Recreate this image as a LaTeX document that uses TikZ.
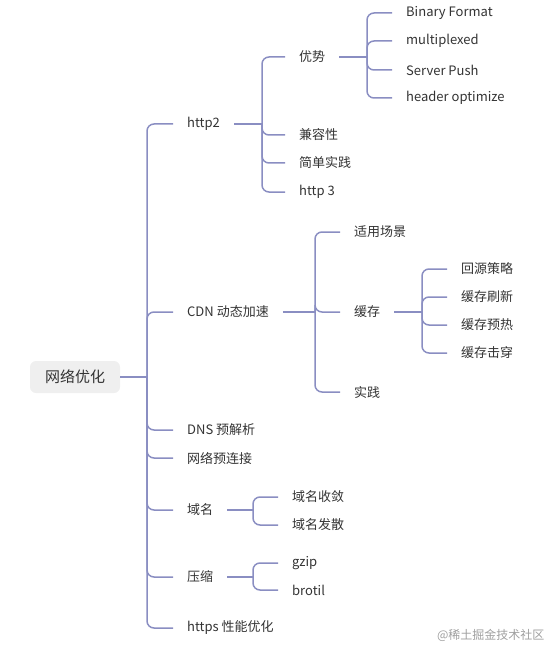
\documentclass[tikz,border=0pt]{standalone}
\usepackage{fontspec}
\newfontfamily\cjkfont{Noto Sans CJK SC}
\usepackage{xcolor}
\definecolor{mmline}{HTML}{8A8EC2}
\definecolor{mmtext}{HTML}{333333}
\definecolor{mmroot}{HTML}{EFEFEF}
\usetikzlibrary{positioning}

\begin{document}
\begin{tikzpicture}[
  x=1pt, y=-1pt,
  rootbox/.style={rectangle, rounded corners=6pt, fill=mmroot, text=mmtext,
    minimum width=90pt, minimum height=32pt, inner sep=0pt,
    font=\cjkfont\fontsize{15}{17}\selectfont},
  item/.style={anchor=west, inner xsep=14pt, inner ysep=2pt, text=mmtext,
    font=\cjkfont\fontsize{13}{15}\selectfont},
  link/.style={draw=mmline, line width=1.5pt, rounded corners=7pt}
]
\useasboundingbox (0,0) rectangle (555,647);

\node[rootbox] (net) at (75,377) {网络优化};

% first level
\node[item] (http2) at (173,124) {http2};
\node[item] (cdn) at (173,312) {CDN 动态加速};
\node[item] (dns) at (173,430) {DNS 预解析};
\node[item] (preconn) at (173,458) {网络预连接};
\node[item] (domain) at (173,510) {域名};
\node[item] (zip) at (173,577) {压缩};
\node[item] (https) at (173,628) {https 性能优化};

% http2
\node[item] (adv) at (285,57) {优势};
\node[item] (compat) at (285,135) {兼容性};
\node[item] (simple) at (285,163) {简单实践};
\node[item] (http3) at (285,192) {http 3};

\node[item] (binary) at (392,13) {Binary Format};
\node[item] (multi) at (392,41) {multiplexed};
\node[item] (push) at (392,70) {Server Push};
\node[item] (header) at (392,98) {header optimize};

% cdn
\node[item] (scene) at (340,232) {适用场景};
\node[item] (cache) at (340,312) {缓存};
\node[item] (practice) at (340,392) {实践};

\node[item] (origin) at (447,269) {回源策略};
\node[item] (refresh) at (447,297) {缓存刷新};
\node[item] (preheat) at (447,325) {缓存预热};
\node[item] (pierce) at (447,353) {缓存击穿};

% domain, zip
\node[item] (merge) at (278,497) {域名收敛};
\node[item] (split) at (278,525) {域名发散};
\node[item] (gzip) at (278,563) {gzip};
\node[item] (brotil) at (278,590) {brotil};

\node[text=gray!75, font=\cjkfont\fontsize{12}{14}\selectfont, anchor=east] (credit) at (548,635) {@稀土掘金技术社区};

% junctions
\coordinate (netj) at (147,377);
\coordinate (http2j) at (262,124);
\coordinate (advj) at (367,57);
\coordinate (cdnj) at (315,312);
\coordinate (cachej) at (422,312);
\coordinate (domainj) at (253,510);
\coordinate (zipj) at (253,577);

\draw[link] (net) -- (netj);
\foreach \c in {http2, cdn, dns, preconn, domain, zip, https}
  \draw[link] (netj) |- (\c);

\draw[link] (http2) -- (http2j);
\foreach \c in {adv, compat, simple, http3}
  \draw[link] (http2j) |- (\c);

\draw[link] (adv) -- (advj);
\foreach \c in {binary, multi, push, header}
  \draw[link] (advj) |- (\c);

\draw[link] (cdn) -- (cdnj);
\foreach \c in {scene, cache, practice}
  \draw[link] (cdnj) |- (\c);

\draw[link] (cache) -- (cachej);
\foreach \c in {origin, refresh, preheat, pierce}
  \draw[link] (cachej) |- (\c);

\draw[link] (domain) -- (domainj);
\foreach \c in {merge, split}
  \draw[link] (domainj) |- (\c);

\draw[link] (zip) -- (zipj);
\foreach \c in {gzip, brotil}
  \draw[link] (zipj) |- (\c);
\end{tikzpicture}
\end{document}
